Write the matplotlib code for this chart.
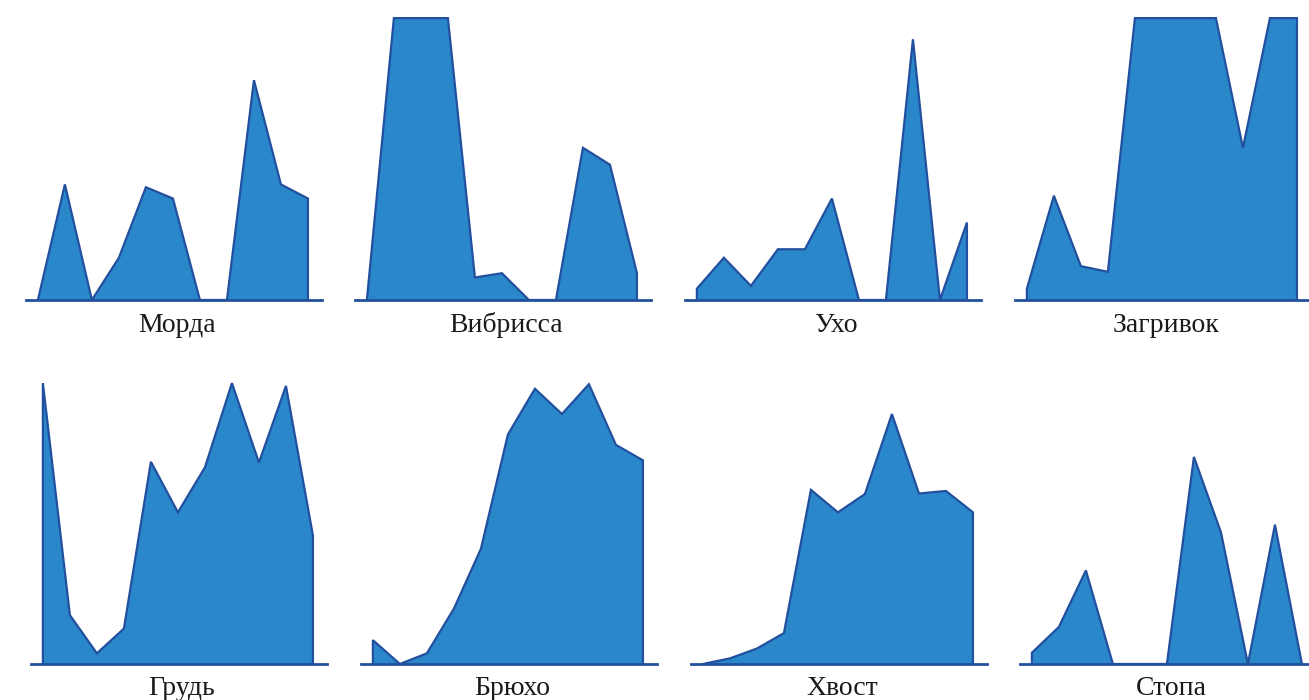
import matplotlib
matplotlib.use("Agg")
import matplotlib.pyplot as plt
import numpy as np

# Panel titles
titles_top = ["Морда", "Вибрисса", "Ухо", "Загривок"]
titles_bottom = ["Грудь", "Брюхо", "Хвост", "Стопа"]

# Values (relative scale 0-100, 11 points per panel)
morda     = [0, 41, 0, 15, 40, 36, 0, 0, 78, 41, 36]
vibrissa  = [0, 100, 100, 100, 8, 9.5, 0, 0, 54, 48, 9.5]
ukho      = [4, 15, 5, 18, 18, 36, 0, 0, 92.5, 0, 27.5]
zagrivok  = [4, 37, 12, 10, 100, 100, 100, 100, 54, 100, 100]
grud      = [100, 17.4, 3.8, 12.6, 72, 54, 70, 100, 71.7, 99, 45.7]
bryukho   = [8.5, 0, 3.8, 19.7, 41, 81.7, 98, 89, 99.6, 78, 72.5]
khvost    = [0, 2, 5.5, 11, 62, 54, 60.5, 89, 60.7, 61.6, 54]
stopa     = [4, 13.2, 33.3, 0, 0, 0, 73.7, 46.9, 0, 49.6, 0]

series_top = [morda, vibrissa, ukho, zagrivok]
series_bottom = [grud, bryukho, khvost, stopa]

FILL = "#2A87C9"
EDGE = "#22509E"
W, H = 1309, 700

fig = plt.figure(figsize=(W / 100, H / 100), dpi=100)

def make_panel(left_px, base_px, top_px, values, title, label_base_px):
    ax = fig.add_axes([left_px / W, (H - base_px) / H, 296 / W, (base_px - top_px) / H])
    x = np.arange(len(values))
    ax.fill_between(x, values, 0, facecolor=FILL, edgecolor="none", zorder=1)
    ax.plot(np.r_[x[0], x, x[-1]], np.r_[0, values, 0], color=EDGE, lw=1.6, zorder=2,
            solid_joinstyle="miter")
    ax.set_xlim(-0.44, 10.52)
    ax.set_ylim(0, 100.4)
    for s in ["top", "left", "right"]:
        ax.spines[s].set_visible(False)
    ax.spines["bottom"].set_color(EDGE)
    ax.spines["bottom"].set_linewidth(2.0)
    ax.spines["bottom"].set_zorder(3)
    ax.set_xticks([])
    ax.set_yticks([])
    ax.patch.set_alpha(0)
    cx = left_px + 148 + 3
    fig.text(cx / W, (H - label_base_px) / H, title, ha="center", va="baseline",
             fontsize=20, family=["Liberation Serif", "DejaVu Serif"], color="#1a1a1a")
    return ax

top_lefts = [26, 355, 685, 1015]
bottom_lefts = [31, 361, 691, 1020]

for l, v, t in zip(top_lefts, series_top, titles_top):
    make_panel(l, 300, 17, v, t, 332)
for l, v, t in zip(bottom_lefts, series_bottom, titles_bottom):
    make_panel(l, 664, 382, v, t, 695)

fig.savefig("out.png", dpi=100, facecolor="white")
